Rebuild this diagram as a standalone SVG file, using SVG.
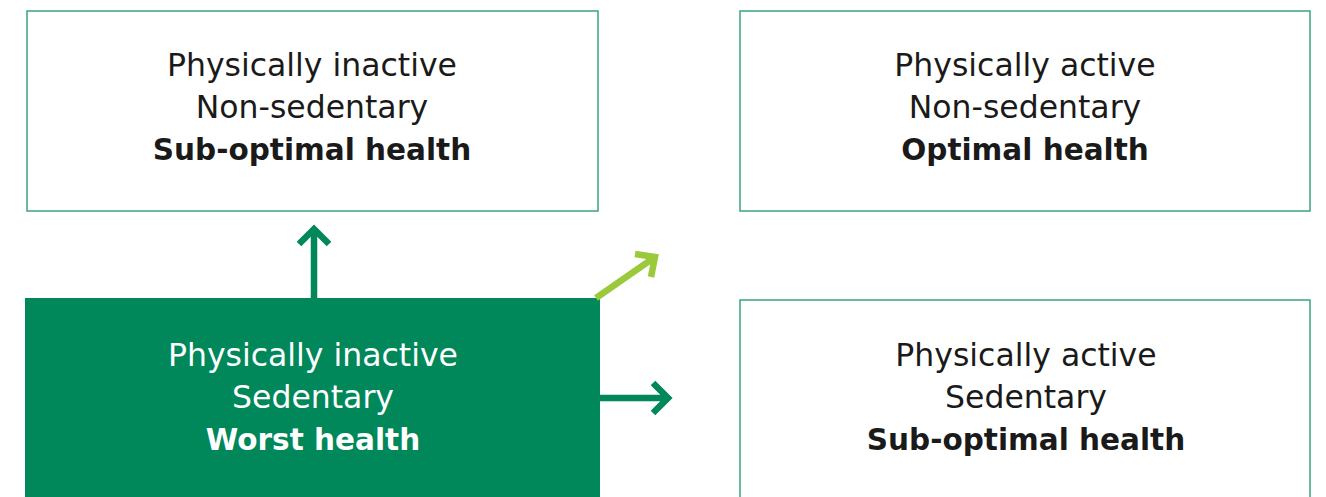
<svg xmlns="http://www.w3.org/2000/svg" width="1326" height="497" viewBox="0 0 1326 497">
<style>
.box{fill:#fff;stroke:#3aa57f;stroke-width:1.5}
.dark{fill:#00875a}
text{font-family:"DejaVu Sans","Noto Sans",sans-serif;font-size:31.5px;text-anchor:middle;fill:#1a1a1a}
.b{font-weight:bold;font-size:29.5px}
.w{fill:#fff}
.arr{fill:none;stroke-width:6.5}
</style>
<g id="node-inactive-nonsed">
<rect class="box" x="27" y="11" width="571" height="200"/>
<text x="312" y="76">Physically inactive</text>
<text x="312" y="118">Non-sedentary</text>
<text x="312" y="160" class="b">Sub-optimal health</text>
</g>
<g id="node-active-nonsed">
<rect class="box" x="740" y="11" width="570" height="200"/>
<text x="1025" y="76">Physically active</text>
<text x="1025" y="118">Non-sedentary</text>
<text x="1025" y="160" class="b">Optimal health</text>
</g>
<g id="node-inactive-sed">
<rect class="dark" x="25" y="298" width="575" height="210"/>
<text x="313" y="366" class="w">Physically inactive</text>
<text x="313" y="408" class="w">Sedentary</text>
<text x="313" y="450" class="w b">Worst health</text>
</g>
<g id="node-active-sed">
<rect class="box" x="740" y="300" width="570" height="210"/>
<text x="1026" y="366">Physically active</text>
<text x="1026" y="408">Sedentary</text>
<text x="1026" y="450" class="b">Sub-optimal health</text>
</g>
<g id="connectors">
<g stroke="#00875a" class="arr">
<path d="M314 298 V229"/>
<path d="M299 244 L314 229 L329 244"/>
<path d="M600 398 H668"/>
<path d="M653 383 L668 398 L653 413"/>
</g>
<g stroke="#9bc93c" class="arr">
<path d="M596 298 L655 257"/>
<path d="M635 254 L655 257 L651 277"/>
</g>
</g>
</svg>
